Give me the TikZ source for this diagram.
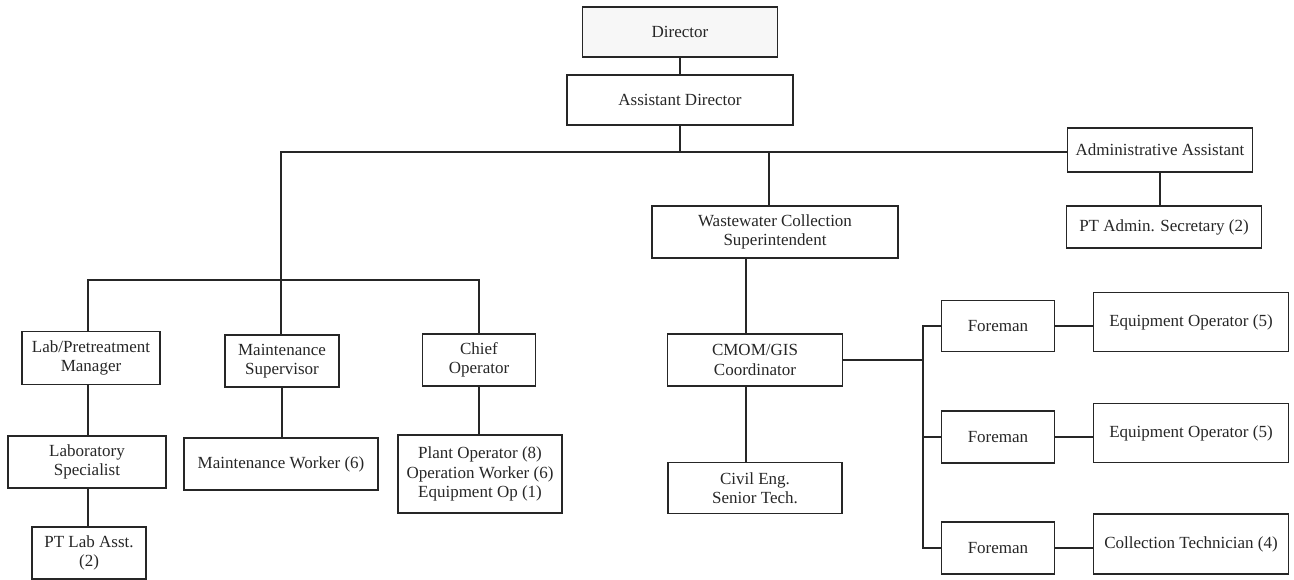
\documentclass[tikz,border=0pt]{standalone}
\usepackage{fontspec}
\setmainfont{Liberation Serif}
\begin{document}
\begin{tikzpicture}[x=1pt,y=-1pt,color=black!85,line width=1.6pt,
  box/.style={draw,align=center,inner sep=1pt,font=\fontsize{17}{19.5}\selectfont}]
  \useasboundingbox (0,0) rectangle (1294,580);
  %% Top of the chart.
  \node[box,fill=black!3,minimum width=195pt,minimum height=50pt] (D) at (680,32) {Director};
  \node[box,minimum width=226pt,minimum height=50pt] (AD) at (680,100) {Assistant Director};
  \node[box,minimum width=185pt,minimum height=44pt] (AA) at (1160,150) {Administrative Assistant};
  \node[box,minimum width=195pt,minimum height=42pt] (PTAS) at (1164,227) {PT Admin. Secretary (2)};
  %% Collection branch.
  \node[box,minimum width=246pt,minimum height=52pt] (WCS) at (775,232) {Wastewater Collection\\Superintendent};
  \node[box,minimum width=175pt,minimum height=52pt] (CM) at (755,360) {CMOM/GIS\\Coordinator};
  \node[box,minimum width=174pt,minimum height=51pt] (CE) at (755,488) {Civil Eng.\\Senior Tech.};
  %% Foremen and crews.
  \node[box,minimum width=113pt,minimum height=51pt] (F1) at (998,326) {Foreman};
  \node[box,minimum width=195pt,minimum height=59pt] (E1) at (1191,322) {Equipment Operator (5)};
  \node[box,minimum width=113pt,minimum height=52pt] (F2) at (998,437) {Foreman};
  \node[box,minimum width=195pt,minimum height=59pt] (E2) at (1191,433) {Equipment Operator (5)};
  \node[box,minimum width=113pt,minimum height=52pt] (F3) at (998,548) {Foreman};
  \node[box,minimum width=195pt,minimum height=60pt] (E3) at (1191,544) {Collection Technician (4)};
  %% Plant branch.
  \node[box,minimum width=138pt,minimum height=53pt] (LM) at (91,358) {Lab/Pretreatment\\Manager};
  \node[box,minimum width=114pt,minimum height=52pt] (MS) at (282,361) {Maintenance\\Supervisor};
  \node[box,minimum width=113pt,minimum height=52pt] (CO) at (479,360) {Chief\\Operator};
  \node[box,minimum width=158pt,minimum height=52pt] (LS) at (87,462) {Laboratory\\Specialist};
  \node[box,minimum width=194pt,minimum height=52pt] (MW) at (281,464) {Maintenance Worker (6)};
  \node[box,minimum width=164pt,minimum height=78pt] (PO) at (480,474) {Plant Operator (8)\\Operation Worker (6)\\Equipment Op (1)};
  \node[box,minimum width=114pt,minimum height=52pt] (PL) at (89,553) {PT Lab Asst.\\(2)};

  \coordinate (J) at (281,152);
  \coordinate (W) at (769,152);
  \coordinate (T) at (746,0);
  \coordinate (B) at (923,0);
  \coordinate (L) at (88,280);

  \draw (D) -- (AD);
  \draw (AD.south) -- (AD.south |- J);
  \draw (J |- MS.north) -- (J) -- (J -| AA.west);
  \draw (W) -- (W |- WCS.north);
  \draw (AA.south) -- (AA.south |- PTAS.north);

  \draw (WCS.south -| T) -- (CM.north -| T);
  \draw (CM.south -| T) -- (CE.north -| T);
  \draw (CM.east) -- (CM.east -| B);
  \draw (F1.west) -- (F1.west -| B) -- (F3.west -| B) -- (F3.west);
  \draw (F2.west -| B) -- (F2.west);
  \foreach \i in {1,2,3}
    \draw (F\i.east) -- (F\i.east -| E\i.west);

  \draw (LM.north -| L) -- (L) -- (L -| CO.north) -- (CO.north);
  \draw (LM.south -| L) -- (LS.north -| L);
  \draw (LS.south -| L) -- (PL.north -| L);
  \draw (MS.south) -- (MS.south |- MW.north);
  \draw (CO.south) -- (CO.south |- PO.north);
\end{tikzpicture}
\end{document}
